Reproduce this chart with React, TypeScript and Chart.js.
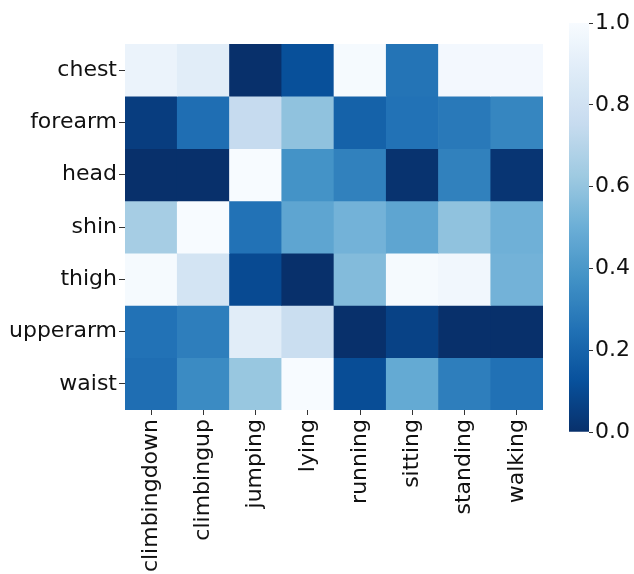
import React, { useEffect, useRef } from "react";
import { Chart, registerables } from "chart.js";

Chart.register(...registerables);

const columns = ["climbingdown", "climbingup", "jumping", "lying", "running", "sitting", "standing", "walking"];
const rows = ["chest", "forearm", "head", "shin", "thigh", "upperarm", "waist"];

const chestValues = [0.94, 0.89, 0.0, 0.12, 0.99, 0.26, 0.98, 0.98];
const forearmValues = [0.05, 0.24, 0.75, 0.59, 0.19, 0.255, 0.28, 0.33];
const headValues = [0.0, 0.0, 1.0, 0.38, 0.31, 0.01, 0.31, 0.02];
const shinValues = [0.65, 1.0, 0.255, 0.46, 0.52, 0.46, 0.59, 0.51];
const thighValues = [0.99, 0.82, 0.1, 0.0, 0.56, 0.99, 0.97, 0.52];
const upperarmValues = [0.255, 0.3, 0.89, 0.77, 0.0, 0.07, 0.0, 0.0];
const waistValues = [0.24, 0.35, 0.61, 1.0, 0.11, 0.48, 0.3, 0.25];

const rowValues = [chestValues, forearmValues, headValues, shinValues, thighValues, upperarmValues, waistValues];

const colorbarTicks = [0, 0.2, 0.4, 0.6, 0.8, 1.0];

// matplotlib Blues stops
const BLUES: [number, number, number][] = [
  [247, 251, 255],
  [222, 235, 247],
  [198, 219, 239],
  [158, 202, 225],
  [107, 174, 214],
  [66, 146, 198],
  [33, 113, 181],
  [8, 81, 156],
  [8, 48, 107],
];

function bluesR(v: number): string {
  const t = Math.min(1, Math.max(0, 1 - v)) * (BLUES.length - 1);
  const i = Math.min(BLUES.length - 2, Math.floor(t));
  const f = t - i;
  const a = BLUES[i];
  const b = BLUES[i + 1];
  const c = a.map((x, k) => Math.round(x + (b[k] - x) * f));
  return `rgb(${c[0]},${c[1]},${c[2]})`;
}

const FONT = { family: "'DejaVu Sans'", size: 22 };

export default function App() {
  const mainRef = useRef<HTMLCanvasElement>(null);
  const barRef = useRef<HTMLCanvasElement>(null);

  useEffect(() => {
    Chart.defaults.font.family = "'DejaVu Sans'";
    const main = new Chart(mainRef.current!, {
      type: "bar",
      data: {
        labels: columns,
        datasets: rows.map((r, ri) => ({
          label: r,
          data: columns.map(() => [ri, ri + 1]) as any,
          backgroundColor: rowValues[ri].map(bluesR),
          borderWidth: 0,
          barPercentage: 1,
          categoryPercentage: 1,
          grouped: false,
        })),
      },
      options: {
        animation: false,
        responsive: false,
        maintainAspectRatio: false,
        layout: { padding: { left: 0, top: 44, right: 91, bottom: 0 } },
        plugins: { legend: { display: false }, tooltip: { enabled: false } },
        scales: {
          x: {
            type: "category",
            grid: { display: true, drawOnChartArea: false, offset: false, tickLength: 5, color: "#333", tickWidth: 1 },
            border: { display: false },
            ticks: { font: FONT, color: "#111", minRotation: 90, maxRotation: 90, autoSkip: false, padding: 4 },
            afterFit: (s: any) => { s.height = 164; },
          },
          y: {
            type: "linear",
            min: 0,
            max: rows.length,
            reverse: true,
            grid: { display: true, drawOnChartArea: false, tickLength: 6, color: "#333", tickWidth: 1 },
            border: { display: false },
            afterBuildTicks: (axis: any) => {
              axis.ticks = rows.map((_, i) => ({ value: i + 0.5 }));
            },
            ticks: {
              font: FONT,
              color: "#111",
              padding: 2,
              autoSkip: false,
              callback: (v: any) => rows[Math.floor(Number(v))],
            },
            afterFit: (s: any) => { s.width = 125; },
          },
        },
      },
    });

    const bar = new Chart(barRef.current!, {
      type: "bar",
      data: {
        labels: [""],
        datasets: [
          {
            data: [[0, 1]] as any,
            backgroundColor: (ctx: any) => {
              const { chart } = ctx;
              const area = chart.chartArea;
              if (!area) return "#6baed6";
              const g = chart.ctx.createLinearGradient(0, area.bottom, 0, area.top);
              for (let i = 0; i <= 40; i++) {
                g.addColorStop(i / 40, bluesR(i / 40));
              }
              return g;
            },
            borderWidth: 0,
            barPercentage: 1,
            categoryPercentage: 1,
          },
        ],
      },
      options: {
        animation: false,
        responsive: false,
        maintainAspectRatio: false,
        layout: { padding: { left: 9, top: 23, right: 0, bottom: 142 } },
        plugins: { legend: { display: false }, tooltip: { enabled: false } },
        scales: {
          x: { display: false },
          y: {
            position: "right",
            min: 0,
            max: 1,
            afterBuildTicks: (axis: any) => {
              axis.ticks = colorbarTicks.map((v) => ({ value: v }));
            },
            grid: { display: true, drawOnChartArea: false, tickLength: 4, color: "#333" },
            border: { display: false },
            ticks: { font: FONT, color: "#111", padding: 2, callback: (v: any) => Number(v).toFixed(1) },
            afterFit: (s: any) => { s.width = 45; },
          },
        },
      },
    });

    return () => {
      main.destroy();
      bar.destroy();
    };
  }, []);

  return (
    <div style={{ position: "absolute", left: 0, top: 0, width: 634, height: 574, background: "#fff" }}>
      <canvas ref={mainRef} width={634} height={574} style={{ position: "absolute", left: 0, top: 0, width: 634, height: 574 }} />
      <canvas ref={barRef} width={74} height={574} style={{ position: "absolute", left: 560, top: 0, width: 74, height: 574 }} />
    </div>
  );
}
